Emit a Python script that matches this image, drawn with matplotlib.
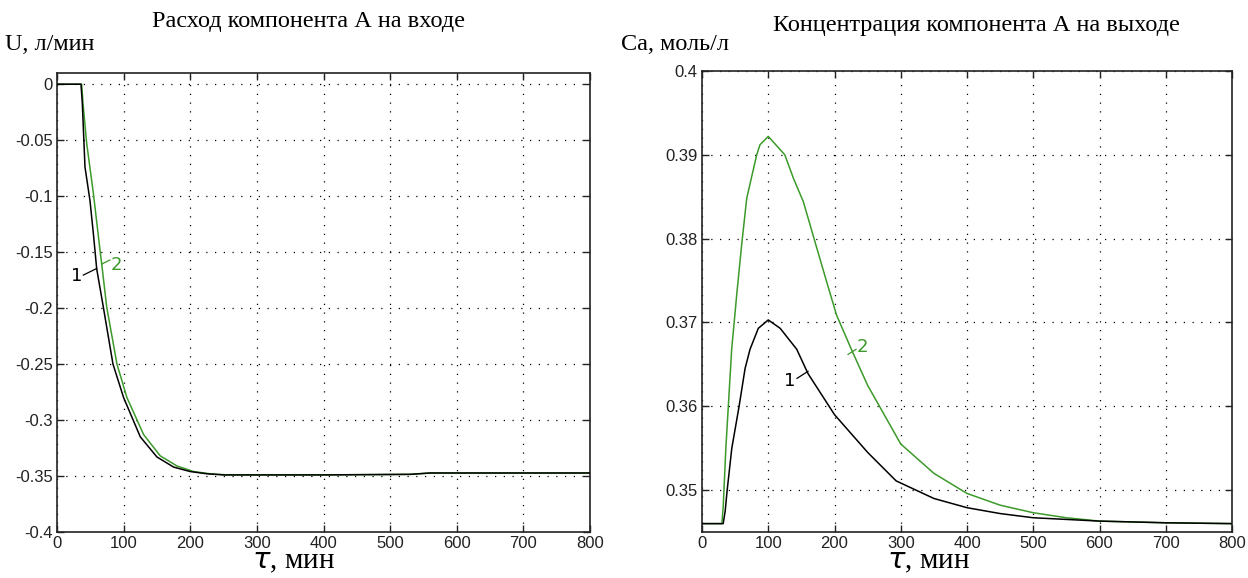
import matplotlib.pyplot as plt

# Left plot: input flow of component A, U (l/min)
t_u1 = [0, 36, 38, 42, 49.5, 54.5, 59.6, 69.5, 84, 100, 125, 150, 175, 200, 225, 250, 400, 530, 560, 800]
u1 = [0, 0, -0.017, -0.074, -0.104, -0.133, -0.165, -0.199, -0.25, -0.28, -0.315, -0.333, -0.342, -0.346, -0.348, -0.349, -0.349, -0.3485, -0.3473, -0.3473]
t_u2 = [0, 37, 39, 44.6, 54.5, 64.5, 67, 74.6, 90, 105, 130, 155, 180, 205, 230, 255, 400, 530, 560, 800]
u2 = [0, 0, -0.017, -0.053, -0.097, -0.148, -0.160, -0.199, -0.25, -0.28, -0.313, -0.332, -0.341, -0.346, -0.348, -0.349, -0.349, -0.3485, -0.3473, -0.3473]

# Right plot: outlet concentration of component A, Ca (mol/l)
t_c1 = [0, 32, 35, 38, 45, 56, 65, 72.5, 85, 100, 118, 143, 160, 200, 250, 293, 350, 400, 450, 500, 600, 700, 800]
c1 = [0.346, 0.346, 0.3475, 0.350, 0.355, 0.360, 0.3645, 0.3668, 0.3693, 0.3703, 0.3693, 0.3668, 0.3639, 0.3590, 0.3545, 0.3511, 0.3490, 0.3479, 0.3472, 0.3467, 0.3463, 0.3461, 0.3460]
t_c2 = [0, 30, 32, 36, 44.8, 52.4, 59.9, 67.5, 75, 82.6, 87.5, 100, 125, 138, 153, 170.6, 188, 203, 226, 250, 300, 350, 400, 450, 500, 550, 600, 700, 800]
c2 = [0.346, 0.346, 0.348, 0.355, 0.3668, 0.3733, 0.3793, 0.3848, 0.3874, 0.390, 0.3912, 0.3922, 0.390, 0.3872, 0.3844, 0.3796, 0.3749, 0.3709, 0.3667, 0.3625, 0.3555, 0.3520, 0.3496, 0.3482, 0.3473, 0.3467, 0.3463, 0.3461, 0.3460]

green = '#3c9a2a'
tick_font = ['Liberation Sans Narrow', 'Liberation Sans', 'DejaVu Sans']
serif = ['Liberation Serif', 'DejaVu Serif']

fig = plt.figure(figsize=(12.48, 5.78), dpi=100)
ax1 = fig.add_axes([57 / 1248, 1 - 532 / 578, 533 / 1248, 459 / 578])
ax2 = fig.add_axes([702 / 1248, 1 - 532 / 578, 530 / 1248, 461 / 578])


def style(ax):
    ax.grid(True, color='black', linestyle=(0, (1, 6)), linewidth=0.9)
    ax.tick_params(direction='in', top=True, right=True, length=5, width=1,
                   labelsize=12, colors='#222222', pad=3)
    for lab in ax.get_xticklabels() + ax.get_yticklabels():
        lab.set_family(tick_font)
    for sp in ax.spines.values():
        sp.set_linewidth(1.2)
        sp.set_color('#222222')


# black (1) drawn above green (2) so the common tail reads black
ax1.plot(t_u2, u2, color=green, linewidth=1.1, zorder=2)
ax1.plot(t_u1, u1, color='black', linewidth=1.1, zorder=3)
ax1.set_xlim(0, 800)
ax1.set_ylim(-0.4, 0.01)
ax1.set_xticks(range(0, 801, 100))
ax1.set_yticks([0, -0.05, -0.1, -0.15, -0.2, -0.25, -0.3, -0.35, -0.4])
ax1.set_yticklabels(['0', '-0.05', '-0.1', '-0.15', '-0.2', '-0.25', '-0.3', '-0.35', '-0.4'])
style(ax1)
ax1.plot([39.5, 59.6], [-0.1705, -0.1646], color='black', linewidth=0.9)
ax1.text(29.6, -0.1712, '1', color='black', fontsize=13, ha='center', va='center')
ax1.plot([67, 79.3], [-0.1607, -0.1571], color=green, linewidth=0.9)
ax1.text(88.6, -0.1616, '2', color=green, fontsize=13, ha='center', va='center')

ax2.plot(t_c2, c2, color=green, linewidth=1.1, zorder=2)
ax2.plot(t_c1, c1, color='black', linewidth=1.1, zorder=3)
ax2.set_xlim(0, 800)
ax2.set_ylim(0.345, 0.4)
ax2.set_xticks(range(0, 801, 100))
ax2.set_yticks([0.35, 0.36, 0.37, 0.38, 0.39, 0.4])
ax2.set_yticklabels(['0.35', '0.36', '0.37', '0.38', '0.39', '0.4'])
style(ax2)
ax2.plot([143.4, 160], [0.36333, 0.36417], color='black', linewidth=0.9)
ax2.text(132.8, 0.36298, '1', color='black', fontsize=13, ha='center', va='center')
ax2.plot([220.4, 232.5], [0.36619, 0.36679], color=green, linewidth=0.9)
ax2.text(241.5, 0.36702, '2', color=green, fontsize=13, ha='center', va='center')

# titles and axis names
fig.text(308 / 1248, 1 - 22 / 578, 'Расход компонента А на входе', family=serif,
         fontsize=17.5, ha='center', va='center')
fig.text(976 / 1248, 1 - 25 / 578, 'Концентрация компонента А на выходе', family=serif,
         fontsize=17.5, ha='center', va='center')
fig.text(5 / 1248, 1 - 45 / 578, 'U, л/мин', family=serif, fontsize=17.5, ha='left', va='center')
fig.text(621 / 1248, 1 - 45 / 578, 'Ca, моль/л', family=serif, fontsize=17.5, ha='left', va='center')
fig.text(293 / 1248, 1 - 562 / 578, r'$\tau$, мин', family=serif, fontsize=21, ha='center', va='center')
fig.text(928 / 1248, 1 - 562 / 578, r'$\tau$, мин', family=serif, fontsize=21, ha='center', va='center')

fig.savefig('out.png', dpi=100)
